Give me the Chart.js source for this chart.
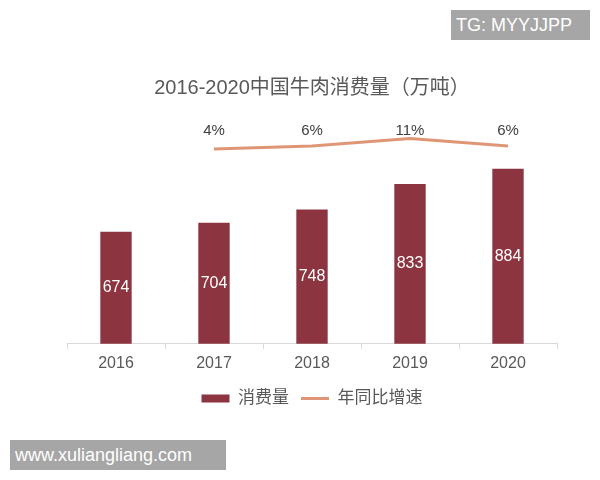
<!DOCTYPE html>
<html>
<head>
<meta charset="utf-8">
<script src="https://cdn.jsdelivr.net/npm/chart.js@4.4.0/dist/chart.umd.min.js"></script>
<style>
  html, body { margin: 0; padding: 0; background: #fff; }
  #wrap { position: relative; width: 600px; height: 480px; }
  .mark {
    position: absolute; background: #a6a6a6; color: #fff;
    font-family: "Liberation Sans", Arial, sans-serif; font-size: 18px;
    line-height: 30px; box-sizing: border-box; padding-left: 5px;
  }
</style>
</head>
<body>
<div id="wrap">
  <canvas id="chart" width="600" height="480"></canvas>
  <div class="mark" style="left:451px; top:10px; width:139px; height:30px;">TG: MYYJJPP</div>
  <div class="mark" style="left:10px; top:440px; width:216px; height:30px;">www.xuliangliang.com</div>
</div>
<script>
// données
const annees = ["2016", "2017", "2018", "2019", "2020"];
const consommation = [674, 704, 748, 833, 884];
const croissance = [null, 4, 6, 11, 6];

const FONT = '"Liberation Sans", Arial, "Noto Sans CJK SC", sans-serif';

// étiquettes dans les barres + pourcentages au-dessus de la ligne
const etiquettes = {
  id: 'etiquettes',
  afterDatasetsDraw(chart) {
    const ctx = chart.ctx;
    const bas = chart.chartArea.bottom;
    ctx.save();
    ctx.textAlign = 'center';
    ctx.textBaseline = 'middle';

    const barres = chart.getDatasetMeta(0).data;
    ctx.fillStyle = '#ffffff';
    ctx.font = '16px ' + FONT;
    barres.forEach((b, i) => {
      ctx.fillText(String(consommation[i]), b.x, (b.y + bas) / 2);
    });

    const points = chart.getDatasetMeta(1).data;
    const yLabel = chart.scales.y1.getPixelForValue(16);
    ctx.fillStyle = '#404040';
    ctx.font = '15px ' + FONT;
    points.forEach((p, i) => {
      if (croissance[i] === null) return;
      ctx.fillText(croissance[i] + '%', p.x, yLabel);
    });
    ctx.restore();
  }
};

new Chart(document.getElementById('chart'), {
  type: 'bar',
  data: {
    labels: annees,
    datasets: [
      {
        label: '消费量',
        data: consommation,
        backgroundColor: '#8c3540',
        categoryPercentage: 1,
        barPercentage: 0.32,
        yAxisID: 'y',
        order: 2
      },
      {
        type: 'line',
        label: '年同比增速',
        data: croissance,
        borderColor: '#df9677',
        backgroundColor: '#df9677',
        borderWidth: 3,
        pointRadius: 0,
        tension: 0,
        yAxisID: 'y1',
        order: 1
      }
    ]
  },
  plugins: [etiquettes],
  options: {
    responsive: false,
    animation: false,
    layout: { padding: { left: 67, right: 43, top: 0, bottom: 63 } },
    plugins: {
      tooltip: { enabled: false },
      title: {
        display: true,
        text: '2016-2020中国牛肉消费量（万吨）',
        color: '#595959',
        font: { family: FONT, size: 20, weight: 'normal' },
        padding: { top: 76, bottom: 34 }
      },
      legend: {
        position: 'bottom',
        labels: {
          color: '#595959',
          font: { family: FONT, size: 17 },
          usePointStyle: true,
          pointStyleWidth: 28,
          boxHeight: 8,
          padding: 12,
          generateLabels: function (chart) {
            return [
              { text: '消费量', fillStyle: '#8c3540', strokeStyle: '#8c3540', lineWidth: 0, pointStyle: 'rect', datasetIndex: 0, fontColor: '#595959' },
              { text: '年同比增速', fillStyle: '#df9677', strokeStyle: '#df9677', lineWidth: 3, pointStyle: 'line', datasetIndex: 1, fontColor: '#595959' }
            ];
          }
        }
      }
    },
    scales: {
      x: {
        grid: { display: true, drawOnChartArea: false, drawTicks: true, tickLength: 5, color: '#d9d9d9', offset: true },
        border: { display: true, color: '#d9d9d9' },
        ticks: { color: '#595959', font: { family: FONT, size: 16 }, padding: 5 }
      },
      y: { display: false, min: 300, max: 1000 },
      y1: { display: false, min: -126, max: 14 }
    }
  }
});
</script>
</body>
</html>
